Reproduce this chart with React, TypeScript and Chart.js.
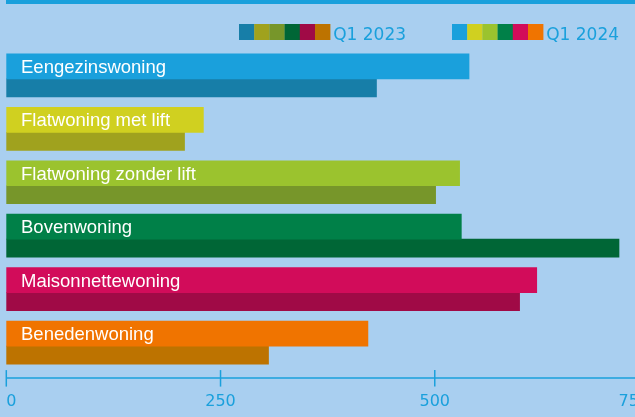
import React, { useEffect, useRef } from 'react';
import { Chart, registerables } from 'chart.js';

Chart.register(...registerables);

const categories = [
  'Eengezinswoning',
  'Flatwoning met lift',
  'Flatwoning zonder lift',
  'Bovenwoning',
  'Maisonnettewoning',
  'Benedenwoning',
];
const values2024 = [540, 230, 529, 531, 619, 422];
const values2023 = [432, 208, 501, 715, 599, 306];
const colors2024 = ['#1aa0dc', '#d0d020', '#9bc32e', '#008048', '#d20c5a', '#f07400'];
const colors2023 = ['#177ea8', '#a0a21e', '#77962a', '#006636', '#a00a46', '#bd7300'];
const seriesLabels = ['Q1 2024', 'Q1 2023'];
const xTicks = [0, 250, 500, 750];

const BG = '#a9cff0';
const AXIS = '#1aa0dc';

export default function App() {
  const ref = useRef<HTMLCanvasElement | null>(null);

  useEffect(() => {
    document.body.style.margin = '0';
    document.body.style.background = BG;
    const canvas = ref.current;
    if (!canvas) return;

    const labelsPlugin = {
      id: 'customDraw',
      afterDatasetsDraw(chart: any) {
        const ctx = chart.ctx;
        // category labels inside the 2024 bars
        const meta = chart.getDatasetMeta(0);
        ctx.save();
        ctx.fillStyle = '#ffffff';
        ctx.font = '18.5px "Liberation Sans", Arial, sans-serif';
        ctx.textAlign = 'left';
        ctx.textBaseline = 'alphabetic';
        categories.forEach((c, i) => {
          const bar = meta.data[i];
          if (!bar) return;
          ctx.fillText(c, 21, bar.y + 6.6);
        });
        ctx.restore();

        // x axis line and ticks
        const xs = chart.scales.x;
        const yb = chart.chartArea.bottom;
        ctx.save();
        ctx.strokeStyle = AXIS;
        ctx.lineWidth = 1.5;
        ctx.beginPath();
        ctx.moveTo(xs.getPixelForValue(0), yb);
        ctx.lineTo(chart.width, yb);
        ctx.stroke();
        xTicks.forEach((t) => {
          const px = xs.getPixelForValue(t);
          ctx.beginPath();
          ctx.moveTo(px, yb - 8);
          ctx.lineTo(px, yb + 8.5);
          ctx.stroke();
        });
        ctx.restore();

        // legend
        const drawLegend = (x0: number, cols: string[], text: string) => {
          ctx.save();
          cols.forEach((col, k) => {
            ctx.fillStyle = col;
            ctx.fillRect(x0 + k * 15.2, 24, 15.4, 16);
          });
          ctx.fillStyle = AXIS;
          ctx.font = '17px "DejaVu Sans", sans-serif';
          ctx.textBaseline = 'alphabetic';
          ctx.textAlign = 'left';
          ctx.fillText(text, x0 + cols.length * 15.2 + 3, 40);
          ctx.restore();
        };
        drawLegend(239, colors2023, seriesLabels[1]);
        drawLegend(452, colors2024, seriesLabels[0]);
      },
    };

    const chart = new Chart(canvas, {
      type: 'bar',
      data: {
        datasets: [
          {
            label: seriesLabels[0],
            data: values2024.map((v, i) => ({ x: v, y: i })),
            backgroundColor: colors2024,
            barThickness: 25,
            borderWidth: 0,
          },
          {
            label: seriesLabels[1],
            data: values2023.map((v, i) => ({ x: v, y: i })),
            backgroundColor: colors2023,
            barThickness: 18,
            borderWidth: 0,
          },
        ],
      },
      options: {
        indexAxis: 'y',
        animation: false,
        responsive: false,
        maintainAspectRatio: false,
        devicePixelRatio: 1,
        layout: { padding: { left: 6.3, right: 51, top: 25.5, bottom: 5.4 } },
        plugins: { legend: { display: false }, tooltip: { enabled: false } },
        scales: {
          y: {
            type: 'linear',
            display: false,
            reverse: true,
            offset: false,
            grid: { offset: false },
            min: -1,
            max: 5.6,
          },
          x: {
            type: 'linear',
            min: 0,
            max: 750,
            offset: false,
            afterBuildTicks: (scale: any) => {
              scale.ticks = xTicks.map((v) => ({ value: v }));
            },
            grid: { display: false, drawTicks: true, tickLength: 14.3 },
            border: { display: false },
            ticks: {
              color: AXIS,
              padding: 0,
              align: 'inner',
              autoSkip: false,
              font: { family: '"DejaVu Sans", sans-serif', size: 16 },
              maxRotation: 0,
            },
          },
        },
      },
      plugins: [labelsPlugin],
    } as any);

    return () => chart.destroy();
  }, []);

  return (
    <div style={{ position: 'relative', width: 635, height: 417, overflow: 'hidden', background: BG }}>
      <div style={{ position: 'absolute', left: 6, top: 0, right: 0, height: 4, background: AXIS }} />
      <canvas ref={ref} width={700} height={417} style={{ display: 'block', width: 700, height: 417 }} />
    </div>
  );
}
